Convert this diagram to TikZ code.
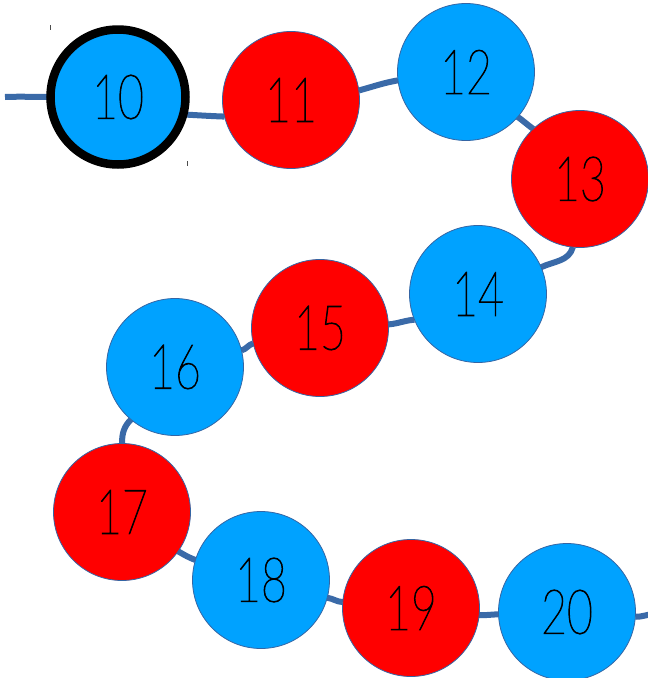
\documentclass[tikz,border=0pt]{standalone}
\usepackage{fontspec}
\usetikzlibrary{backgrounds}
\IfFontExistsTF{Lato Thin}{\newfontfamily\numfont[FakeStretch=0.72,FakeBold=1.5]{Lato Thin}}{%
 \IfFontExistsTF{Lato Light}{\newfontfamily\numfont[FakeStretch=0.72]{Lato Light}}{\newfontfamily\numfont[FakeStretch=0.8]{Latin Modern Sans}}}
\definecolor{ballblue}{RGB}{0,162,255}
\definecolor{ballred}{RGB}{255,0,0}
\definecolor{rim}{RGB}{52,101,164}
\definecolor{rope}{RGB}{58,106,168}
\tikzset{
  ball/.style={circle,minimum size=137pt,inner sep=0pt,outer sep=0pt,draw=rim,line width=0.8pt,
    font=\numfont\fontsize{62}{62}\selectfont,text=black},
  bb/.style={ball,fill=ballblue},
  rb/.style={ball,fill=ballred},
  first/.style={bb,draw=black,line width=8.5pt,minimum size=135pt},
  ropeline/.style={draw=rope,line width=6pt},
  tickmark/.style={draw=black!70,line width=0.8pt}
}
\begin{document}
\begin{tikzpicture}[x=1pt,y=1pt]
\useasboundingbox (0,0) rectangle (648,-678);
\clip (0,0) rectangle (648,-678);
% rope ends
\coordinate (s) at (5,-97);
\coordinate (e) at (652,-614);
% nodes
\node[first] (n10) at (118,-97) {10};
\node[rb] (n11) at (291,-100) {11};
\node[bb] (n12) at (466,-72) {12};
\node[rb] (n13) at (580,-179) {13};
\node[bb] (n14) at (478,-294) {14};
\node[rb] (n15) at (320,-328) {15};
\node[bb] (n16) at (175,-367) {16};
\node[rb] (n17) at (122,-512) {17};
\node[bb] (n18) at (261,-580) {18};
\node[rb] (n19) at (411,-608) {19};
\node[bb] (n20) at (567,-612) {20};
% rope segments
\begin{pgfonlayer}{background}
\path[ropeline] (s) to[out=2,in=180] (n10.west);
\path[ropeline] (n10.-15) to[out=-3,in=178] (n11.194);
\path[ropeline] (n11.8) to[out=15,in=190] (n12.187);
\path[ropeline] (n12.-41) to[out=-35,in=145] (n13.133);
\path[ropeline] (n13.-96) to[out=-105,in=25] (n14.23);
\path[ropeline] (n14.-158) to[out=185,in=5] (n15.3);
\path[ropeline] (n15.193) to[out=195,in=15] (n16.14);
\path[ropeline] (n16.-130) to[out=-135,in=90] (n17.north);
\path[ropeline] (n17.-35) to[out=-30,in=160] (n18.163);
\path[ropeline] (n18.-15) to[out=-8,in=178] (n19.175);
\path[ropeline] (n19.-6) to[out=-2,in=180] (n20.-178);
\path[ropeline] (n20.-4) to[out=0,in=190] (e);
\end{pgfonlayer}
% small tick marks
\coordinate (t1) at (50,-25);
\coordinate (t2) at (187,-161);
\draw[tickmark] (t1) -- ++(0,-5);
\draw[tickmark] (t2) -- ++(0,-5);
\end{tikzpicture}
\end{document}
